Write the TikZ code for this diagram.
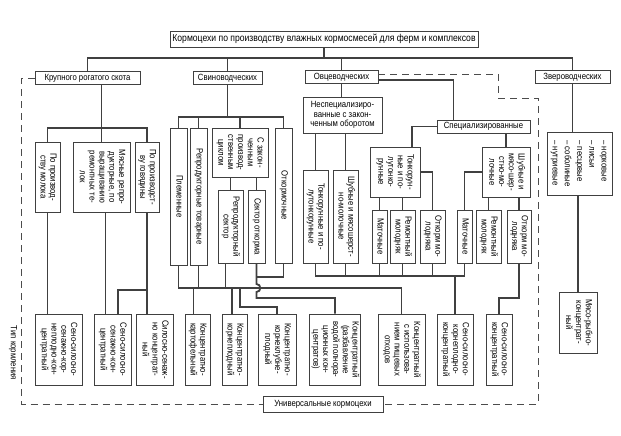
\documentclass[tikz,border=0pt]{standalone}
\usepackage{fontspec}
\setmainfont{Liberation Sans}[FakeStretch=0.86]
\newcommand{\rottxt}[1]{\rotatebox{-90}{\begin{tabular}{@{}c@{}}#1\end{tabular}}}
\newcommand{\rotlst}[1]{\rotatebox{-90}{\begin{tabular}{@{}l@{}}#1\end{tabular}}}
\tikzset{
    box/.style={draw=black!75, line width=0.6pt, fill=white, inner sep=1pt,
        align=center, font=\fontsize{9}{9.8}\selectfont},
    sz/.style 2 args={minimum width=#1pt, minimum height=#2pt},
    conn/.style={draw=black!75, line width=1.8pt},
    dashconn/.style={draw=black!70, line width=0.9pt, dash pattern=on 7pt off 5pt},
}
\begin{document}
\begin{tikzpicture}[x=1pt, y=-1pt]
\useasboundingbox (0,0) rectangle (621,436);
\coordinate (bus) at (0,58);
\coordinate (kbus) at (0,128);
\coordinate (sbus) at (0,117);
\coordinate (obus) at (0,276);
\coordinate (lbus) at (0,288);
\coordinate (l277) at (0,277);
\coordinate (l290) at (0,290);
\coordinate (l298) at (0,298);
\coordinate (l307) at (0,307);
\coordinate (dk1) at (498,98);
\coordinate (dk2) at (538,98);

% top level
\node[box, sz={308}{16}, font=\fontsize{10}{11}\selectfont] (title) at (324,39) {Кормоцехи по производству влажных кормосмесей для ферм и комплексов};
\node[box, sz={105}{13}] (crs) at (87.5,78) {Крупного рогатого скота};
\node[box, sz={69}{13}] (svin) at (227.5,78) {Свиноводческих};
\node[box, sz={73}{13}] (ovc) at (341.5,77) {Овцеводческих};
\node[box, sz={75}{13}] (zver) at (572.5,77) {Звероводческих};
\draw[conn] (title.south) -- (title.south |- bus);
\draw[conn] (crs.north) -- (crs.north |- bus) -- (zver.north |- bus) -- (zver.north);
\draw[conn] (svin.north) -- (svin.north |- bus);
\draw[conn] (ovc.north) -- (ovc.north |- bus);

% KRS
\node[box, sz={25}{70}] (k1) at (47.5,177) {\rottxt{По производ-\\ству молока}};
\node[box, sz={57}{70}] (k2) at (101.5,177) {\rottxt{Мясные репро-\\дукторные, по\\выращиванию\\ремонтных те-\\лок}};
\node[box, sz={24}{70}] (k3) at (147,177) {\rottxt{По производст-\\ву говядины}};
\draw[conn] (k2.north |- crs.south) -- (k2.north);
\draw[conn] (k1.north) -- (k1.north |- kbus) -- (k3.north |- kbus) -- (k3.north);
\node[box, sz={47}{71}] (kf1) at (58.5,349.5) {\rottxt{Сено-силосно-\\сенажно-кор-\\неплодно-кон-\\центратный}};
\node[box, sz={37}{71}] (kf2) at (112.5,349.5) {\rottxt{Сено-силосно-\\сенажно-кон-\\центратный}};
\node[box, sz={37}{71}] (kf3) at (154.5,349.5) {\rottxt{Силосно-сенаж-\\но концентрат-\\ный}};
\draw[conn] (k1.south) -- (k1.south |- kf1.north);
\draw[conn] ([xshift=4pt]k2.south) -- ([xshift=4pt]k2.south |- kf2.north);
\draw[conn] (k3.south) -- (k3.south |- kf3.north);
\draw[conn] (k3.south |- l290) -| ([xshift=5.5pt]kf2.north);

% svin
\node[box, sz={17}{137}] (s1) at (178.5,196.5) {\rottxt{Племенные}};
\node[box, sz={17}{137}] (s2) at (198.5,196.5) {\rottxt{Репродукторные товарные}};
\node[box, sz={56}{49}] (s3) at (240,152.5) {\rottxt{С закон-\\ченным\\производ-\\ственным\\циклом}};
\node[box, sz={17}{135}] (s4) at (283.5,195.5) {\rottxt{Откормочные}};
\node[box, sz={25}{73}] (s5) at (230.5,226.5) {\rottxt{Репродукторный\\сектор}};
\node[box, sz={17}{73}] (s6) at (256.5,226.5) {\rottxt{Сектор откорма}};
\draw[conn] (svin.south) -- (svin.south |- sbus);
\draw[conn] (s1.north) -- (s1.north |- sbus) -- (s4.north |- sbus) -- (s4.north);
\draw[conn] (s2.north) -- (s2.north |- sbus);
\draw[conn] (s3.north) -- (s3.north |- sbus);
\draw[conn] (s5.north) -- (s5.north |- s3.south);
\draw[conn] (s6.north) -- (s6.north |- s3.south);

% bottom row
\node[box, sz={25}{71}] (c1) at (197.5,349.5) {\rottxt{Концентратно-\\картофельный}};
\node[box, sz={25}{71}] (c2) at (234.5,349.5) {\rottxt{Концентратно-\\корнеплодный}};
\node[box, sz={38}{71}] (c3) at (277,349.5) {\rottxt{Концентратно-\\корнеклубне-\\плодный}};
\node[box, sz={50}{71}] (c4) at (335,349.5) {\rottxt{Концентратный\\(разбавление\\водой полнора-\\ционных кон-\\центратов)}};
\node[box, sz={47}{71}] (c5) at (401.5,349.5) {\rottxt{Концентратный\\с использова-\\нием пищевых\\отходов}};
\node[box, sz={36}{71}] (c6) at (455,349.5) {\rottxt{Сено-силосно-\\корнеплодно-\\концентратный}};
\node[box, sz={26}{71}] (c7) at (499,349.5) {\rottxt{Сено-силосно-\\концентратный}};
\node[box, sz={38}{61}] (c8) at (578,322.5) {\rottxt{Мясо-рыбно-\\концентрат-\\ный}};

\draw[conn] (s1.south) -- (s1.south |- lbus) -- (c5.north |- lbus) -- (c5.north);
\draw[conn] (s2.south) -- (s2.south |- lbus);
\draw[conn] ([xshift=-5pt]s5.south) -- ([xshift=-5pt]s5.south |- lbus);
\draw[conn] ([xshift=-4pt]c1.north) -- ([xshift=-4pt]c1.north |- lbus);
\draw[conn] ([xshift=-2.5pt]c2.north) -- ([xshift=-2.5pt]c2.north |- lbus);
\draw[conn] ([xshift=5.5pt]c2.north |- lbus) -- ([xshift=5.5pt]c2.north |- l307) -| (c3.north);
\draw[conn] (s4.south) -- (s4.south |- l277) -- (s6.south |- l277);
\draw[conn] (s6.south) -- ([yshift=4pt]s6.south |- lbus) .. controls +(5,0) and +(5,0) .. ([yshift=-4pt]s6.south |- lbus) -- (s6.south |- l298) -| (c4.north);

% ovc
\node[box, sz={79}{36}] (o1) at (342.5,115) {Неспециализиро-\\ванные с закон-\\ченным оборотом};
\node[box, sz={25}{93}] (o2) at (315.5,216.5) {\rottxt{Тонкорунные и по-\\лутонкорунные}};
\node[box, sz={25}{93}] (o3) at (345.5,216.5) {\rottxt{Шубные и мясошерст-\\но-молочные}};
\draw[conn] (ovc.south) -- (ovc.south |- o1.north);
\draw[conn] (o2.north) -- (o2.north |- o1.south);
\draw[conn] (o3.north) -- (o3.north |- o1.south);
\node[box, sz={93}{13}] (spec) at (483.5,126.5) {Специализированные};
\draw[conn] ([yshift=-3pt]ovc.east) -| ([xshift=-30pt]spec.north);
\node[box, sz={50}{50}] (t1) at (395,172) {\rottxt{Тонкорун-\\ные и по-\\лутонко-\\рунные}};
\draw[conn] (spec.west) -| ([xshift=17pt]t1.north);
\node[box, sz={15}{53}] (t1a) at (379.5,236.5) {\rottxt{Маточные}};
\node[box, sz={25}{53}] (t1b) at (402.5,236.5) {\rottxt{Ремонтный\\молодняк}};
\node[box, sz={25}{53}] (t1c) at (432.5,236.5) {\rottxt{Откорм мо-\\лодняка}};
\draw[conn] (t1a.north) -- (t1a.north |- t1.south);
\draw[conn] (t1b.north) -- (t1b.north |- t1.south);
\draw[conn] (t1.east) -| (t1c.north);
\node[box, sz={48}{50}] (t2) at (506,172) {\rottxt{Шубные и\\мясо-шер-\\стно-мо-\\лочные}};
\draw[conn] (t2.north) -- (t2.north |- spec.south);
\node[box, sz={15}{53}] (t2a) at (464.5,236.5) {\rottxt{Маточные}};
\node[box, sz={25}{53}] (t2b) at (488.5,236.5) {\rottxt{Ремонтный\\молодняк}};
\node[box, sz={24}{53}] (t2c) at (519,236.5) {\rottxt{Откорм мо-\\лодняка}};
\draw[conn] (t2.west) -| (t2a.north);
\draw[conn] (t2b.north) -- (t2b.north |- t2.south);
\draw[conn] (t2c.north) -- (t2c.north |- t2.south);

\draw[conn] (o2.south) -- (o2.south |- obus) -- (t2a.south |- obus) -- (t2a.south);
\draw[conn] (o3.south) -- (o3.south |- obus);
\draw[conn] (t1a.south) -- (t1a.south |- obus);
\draw[conn] (t1b.south) -- (t1b.south |- obus);
\draw[conn] (t1c.south) -- (t1c.south |- obus);
\draw[conn] (c6.north) -- (c6.north |- obus);
\draw[conn] (t2c.south) -- (t2c.south |- l298) -| (c7.north);

% zver
\node[box, sz={65}{63}] (zl) at (579.5,163.5) {\renewcommand{\arraystretch}{1.25}\rotlst{– норковые\\– лисьи\\– песцовые\\– соболиные\\– нутриевые}};
\draw[conn] (zver.south) -- (zver.south |- zl.north);
\draw[conn] (c8.north) -- (c8.north |- zl.south);

% universal
\node[box, sz={120}{16}] (uni) at (323,404) {Универсальные кормоцехи};
\node[rotate=-90, font=\fontsize{9}{9.8}\selectfont] (tip) at (13,353) {Тип кормления};
\draw[dashconn] (crs.west) -- ++(-13,0) |- (uni.west);
\draw[dashconn] ([yshift=3pt]ovc.east) -| (dk1) -- (dk2) |- (uni.east);
\end{tikzpicture}
\end{document}
